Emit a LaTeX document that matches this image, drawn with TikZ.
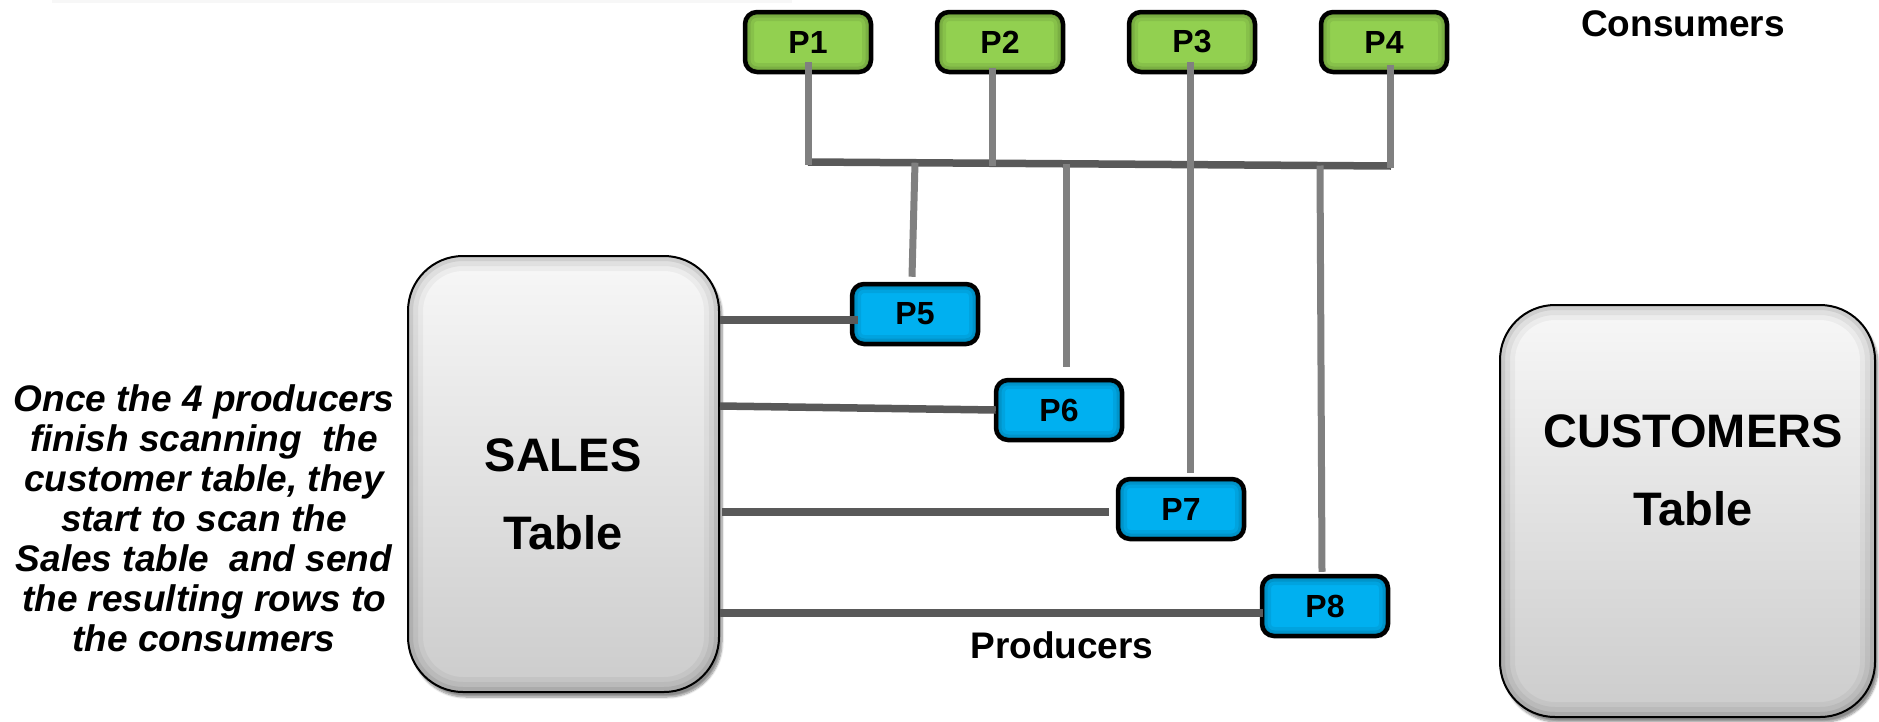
\documentclass[tikz,border=0pt]{standalone}
\usepackage{fontspec}
\setmainfont{Liberation Sans}
\usetikzlibrary{shadows.blur}
\definecolor{pgreen}{HTML}{92D050}
\definecolor{pblue}{HTML}{00B0F0}
\definecolor{linelight}{HTML}{808080}
\definecolor{linedark}{HTML}{595959}
\tikzset{
  procbox/.style={draw=black, line width=4.5pt, rounded corners=12pt,
    minimum width=126pt, minimum height=60pt, inner sep=0pt,
    font=\fontsize{32}{34}\selectfont\bfseries,
    path picture={
      \foreach \w/\o in {18/0.07,11/0.09,6/0.12}
        \draw[line width=\w pt, black, opacity=\o, rounded corners=12pt]
          (path picture bounding box.south west) rectangle (path picture bounding box.north east);
    }},
  consumer/.style={procbox, fill=pgreen},
  producer/.style={procbox, fill=pblue},
  tablebox/.style={draw=black, line width=2pt, rounded corners=55pt,
    top color=white!97!black, bottom color=white!80!black,
    blur shadow={shadow xshift=3pt, shadow yshift=-5pt, shadow blur steps=8, shadow opacity=45},
    path picture={
      \foreach \w/\o in {30/0.04,20/0.05,10/0.08}
        \draw[line width=\w pt, black, opacity=\o, rounded corners=55pt]
          (path picture bounding box.south west) rectangle (path picture bounding box.north east);
    }},
  tabletext/.style={font=\fontsize{47}{78}\selectfont\bfseries, align=center},
  label/.style={font=\fontsize{37}{40}\selectfont\bfseries},
  vline/.style={draw=linelight, line width=7pt},
  hline/.style={draw=linedark, line width=7.5pt},
}
\begin{document}
\begin{tikzpicture}[x=1pt, y=-1pt]
\useasboundingbox (0,0) rectangle (1879,721);
% faint strip along the top edge
\fill[black, opacity=0.03] (52,0) rectangle (792,3);

% tables
\node[tablebox, minimum width=311pt, minimum height=436pt] (sales) at (563.5,474) {};
\node[tabletext] (saleslabel) at (563,494) {SALES\\Table};
\node[tablebox, minimum width=375pt, minimum height=412pt] (customers) at (1687.5,511) {};
\node[tabletext] (custlabel) at (1693,470) {CUSTOMERS\\Table};

% consumers
\node[consumer] (P1) at (808,42) {P1};
\node[consumer] (P2) at (1000,42) {P2};
\node[consumer] (P3) at (1192,42) {P3};
\node[consumer] (P4) at (1384,42) {P4};

% producers
\node[producer] (P5) at (915,314) {P5};
\node[producer] (P6) at (1059,410) {P6};
\node[producer] (P7) at (1181,509) {P7};
\node[producer] (P8) at (1325,606) {P8};

% labels
\node[label] (consumers) at (1683,24) {Consumers};
\node[label] (producers) at (1062,645) {Producers};
\node[label, font=\fontsize{37}{40}\selectfont\bfseries\itshape, align=center] (note) at (204,518)
  {Once the 4 producers\\finish scanning~ the\\customer table, they\\start to scan the\\Sales table~ and send\\the resulting rows to\\the consumers};

% bus joining the consumers
\coordinate (t1) at (808,162);
\coordinate (t5) at (915,162.7);
\coordinate (t2) at (992,163.3);
\coordinate (t6) at (1066,163.8);
\coordinate (t8) at (1320,165.5);
\coordinate (t4) at (1391,166);
\draw[hline] (t1) -- (t4);

% consumer drops
\draw[vline] ([yshift=12pt]P1.south) -- ([yshift=-3pt]t1);
\draw[vline] ([xshift=-8pt,yshift=6pt]P2.south) -- ([yshift=-3pt]t2);
\draw[vline] ([xshift=6pt,yshift=9pt]P4.south) -- ([xshift=-1pt,yshift=-2pt]t4);
\draw[vline] ([xshift=-2pt,yshift=12pt]P3.south) -- ([xshift=9pt,yshift=4pt]P7.north);

% producer risers
\draw[vline] (t5) -- ([xshift=-3pt,yshift=5pt]P5.north);
\draw[vline] (t6) -- ([xshift=7pt,yshift=11pt]P6.north);
\draw[vline] (t8) -- ([xshift=-3pt,yshift=2pt]P8.north);

% sales feeds
\draw[hline] ([yshift=154pt]sales.east) -- ([xshift=8pt,yshift=-6pt]P5.west);
\draw[hline] ([yshift=68pt]sales.east) -- ([xshift=2pt]P6.west);
\draw[hline] ([xshift=2pt,yshift=-38pt]sales.east) -- ([xshift=-7pt,yshift=-3pt]P7.west);
\draw[hline] ([yshift=-139pt]sales.east) -- ([xshift=3pt,yshift=-7pt]P8.west);
\end{tikzpicture}
\end{document}
